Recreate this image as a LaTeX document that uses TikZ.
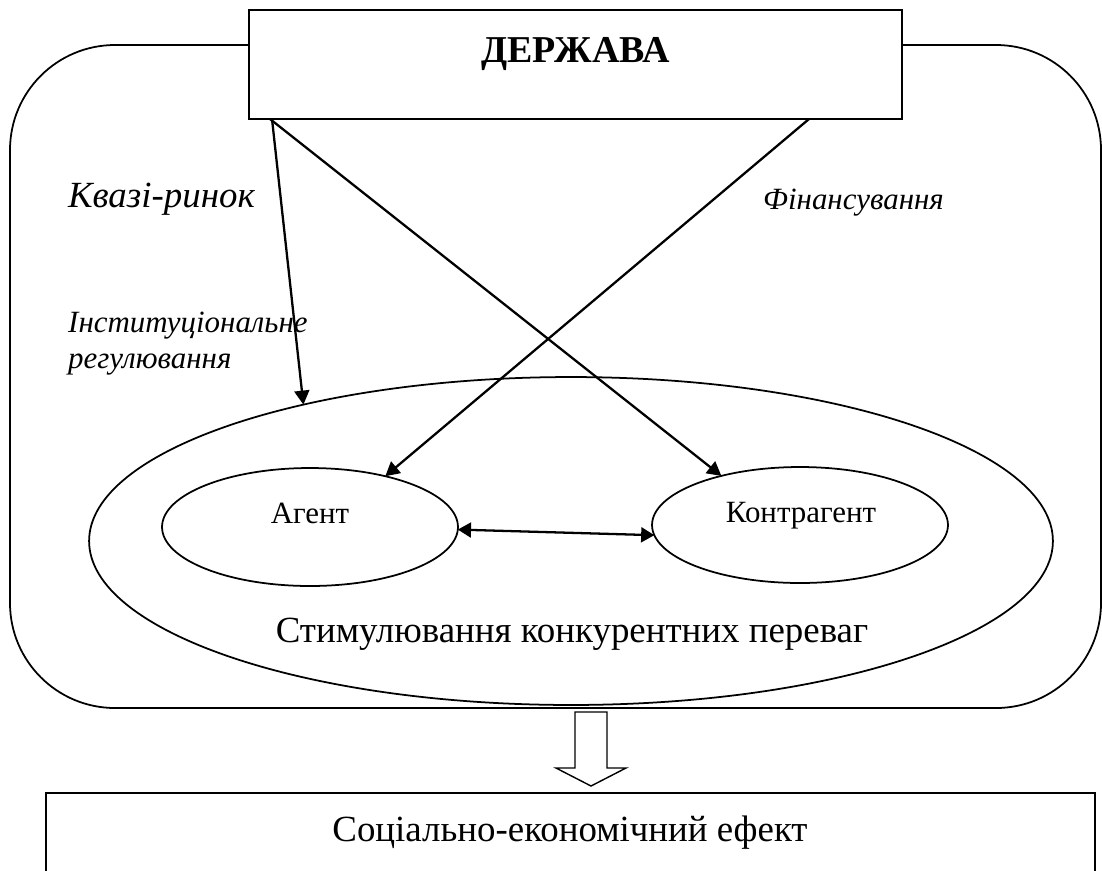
\documentclass[tikz,border=0pt]{standalone}
\usepackage{fontspec}
\setmainfont{Liberation Serif}
\usetikzlibrary{shapes.geometric, arrows.meta}
\begin{document}
\begin{tikzpicture}[x=0.02cm, y=-0.02cm,
  outline/.style={draw, line width=1pt, inner sep=0pt, outer sep=0pt},
  oval/.style={ellipse, draw, line width=1pt, inner sep=0pt, outer sep=0pt},
  link/.style={line width=1.3pt, -{Triangle[length=8pt, width=8.5pt]}},
  twoway/.style={line width=1.3pt, {Triangle[length=7.5pt, width=8.5pt]}-{Triangle[length=7.5pt, width=8.5pt]}},
  largetext/.style={font=\fontsize{21}{25}\selectfont},
  largeital/.style={font=\itshape\fontsize{21}{25}\selectfont},
  midtext/.style={font=\fontsize{17.6}{21}\selectfont},
  midital/.style={font=\itshape\fontsize{17.6}{21}\selectfont},
]
\clip (0,0) rectangle (1102,870);

% outer frame of the quasi-market
\draw[line width=1pt, rounded corners=2.1cm] (10,45) rectangle (1101,708);

% state box on top of the frame
\node[outline, fill=white, minimum width=13.06cm, minimum height=2.18cm] (state) at (575.5,64.5) {};
\node[anchor=base, font=\bfseries\fontsize{21.6}{26}\selectfont] (statename) at (575.5,62) {ДЕРЖАВА};

% competition field and its participants
\node[oval, minimum width=19.28cm, minimum height=6.56cm] (field) at (571,541) {};
\node[oval, minimum width=5.92cm, minimum height=2.36cm] (agent) at (310,527) {};
\node[oval, minimum width=5.92cm, minimum height=2.32cm] (contra) at (800,525) {};
\node[midtext, anchor=base] (agentname) at (310,523) {Агент};
\node[midtext, anchor=base] (contraname) at (801,522) {Контрагент};
\node[largetext, anchor=base] (fieldname) at (572,642) {Стимулювання конкурентних переваг};

% labels of the frame and the links
\node[largeital, anchor=base west] (quasi) at (62,207) {Квазі-ринок};
\node[midital, anchor=base west] (inst1) at (62,332) {Інституціональне};
\node[midital, anchor=base west] (inst2) at (62,368) {регулювання};
\node[midital, anchor=base west] (finance) at (757,209) {Фінансування};

% links from the state
\coordinate (s1) at (272,119);
\coordinate (s2) at (270,119);
\coordinate (s3) at (809,119);
\draw[link] (s1) -- (field.153.3);
\draw[link] (s2) -- (contra.148);
\draw[link] (s3) -- (agent.34.4);
\draw[twoway] (agent.-1) -- (contra.184);

% result block
\draw[line width=0.9pt] (46,900) |- (1095,793) -- (1095,900);
\node[largetext, anchor=base] (effect) at (570,841) {Соціально-економічний ефект};

% hollow arrow towards the result
\draw[line width=0.8pt, fill=white]
  (575,712) -- (607,712) -- (607,768) -- (626,768) -- (591,786)
  -- (556,768) -- (575,768) -- cycle;
\end{tikzpicture}
\end{document}
